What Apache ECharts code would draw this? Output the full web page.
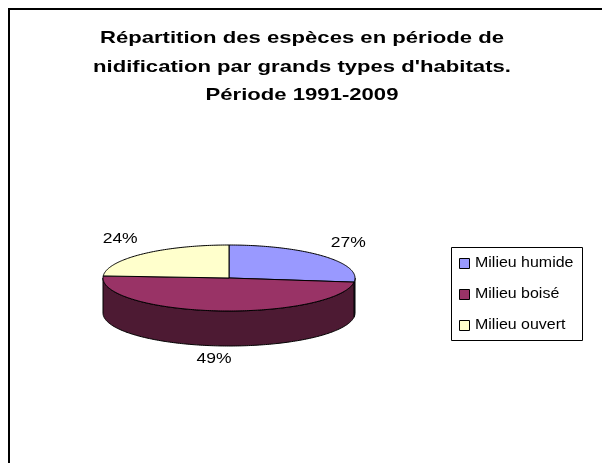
<!DOCTYPE html>
<html>
<head>
<meta charset="utf-8">
<script src="https://cdn.jsdelivr.net/npm/echarts@6/dist/echarts.min.js"></script>
<style>
  html, body { margin: 0; padding: 0; background: #fff; }
  #chart { width: 602px; height: 463px; }
</style>
</head>
<body>
<div id="chart"></div>
<script>
// Habitat categories and their share of breeding species (%)
const categories = ['Milieu humide', 'Milieu boisé', 'Milieu ouvert'];
const shares = [27, 49, 24];
const titleLines = [
  'Répartition des espèces en période de',
  "nidification par grands types d'habitats.",
  'Période 1991-2009'
];

// Slice colours: top face and darker side wall
const topColors = ['#9999FF', '#993366', '#FFFFCC'];
const sideColors = ['#4D4D80', '#4D1A33', '#808066'];

// Tilted-disc geometry (pixels)
const disc = { cx: 229, cy: 278, rx: 126, ry: 33, depth: 35 };
const FONT = '"Liberation Sans", Arial, sans-serif';

const total = shares.reduce((a, b) => a + b, 0);
const starts = shares.map((_, i) => shares.slice(0, i).reduce((a, b) => a + b, 0) / total * 360);

// Angle measured clockwise from 12 o'clock
function pt(deg, dy) {
  const r = deg * Math.PI / 180;
  return [disc.cx + disc.rx * Math.sin(r), disc.cy - disc.ry * Math.cos(r) + (dy || 0)];
}
function arc(a0, a1, dy) {
  const pts = [];
  const n = Math.max(2, Math.ceil(Math.abs(a1 - a0)));
  for (let k = 0; k <= n; k++) pts.push(pt(a0 + (a1 - a0) * k / n, dy));
  return pts;
}

function makeRender(i) {
  return function (params, api) {
    const value = api.value(0);
    const a0 = starts[i];
    const a1 = a0 + value / total * 360;
    const children = [];
    const edge = { stroke: '#000', lineWidth: 1, lineJoin: 'round' };

    // visible front wall: part of the slice between 90° and 270°
    const s0 = Math.max(a0, 90), s1 = Math.min(a1, 270);
    if (s1 > s0) {
      children.push({
        type: 'polygon',
        shape: { points: arc(s0, s1, 0).concat(arc(s1, s0, disc.depth)) },
        style: Object.assign({ fill: sideColors[i] }, edge)
      });
    }

    // top face
    children.push({
      type: 'polygon',
      shape: { points: [[disc.cx, disc.cy]].concat(arc(a0, a1, 0)) },
      style: Object.assign({ fill: topColors[i] }, edge)
    });

    // percentage label outside the slice
    const mid = (a0 + a1) / 2 * Math.PI / 180;
    const s = Math.sin(mid), c = Math.cos(mid);
    const lx = disc.cx + (disc.rx + 33) * s;
    const ly = c >= 0
      ? disc.cy - (disc.ry + 20) * c
      : disc.cy + disc.depth + (disc.ry + 13) * (-c);
    children.push({
      type: 'text',
      x: lx, y: ly, scaleX: 1.25,
      style: {
        text: Math.round(value) + '%',
        x: 0, y: 0,
        align: 'center', verticalAlign: 'middle',
        fontSize: 14, fontFamily: FONT, fill: '#000'
      }
    });

    return { type: 'group', children: children };
  };
}

// Title lines (slightly widened text)
const titleGraphics = titleLines.map((line, k) => ({
  type: 'text',
  x: 302, y: 38.5 + k * 28.5, scaleX: 1.3,
  silent: true,
  style: {
    text: line, x: 0, y: 0,
    align: 'center', verticalAlign: 'middle',
    fontSize: 17, fontWeight: 'bold', fontFamily: FONT, fill: '#000'
  }
}));

// Legend box with swatches
const legendBox = { left: 451, top: 247, width: 131, height: 93, rowTop: 263, rowGap: 31 };
const legendGraphics = [{
  type: 'rect', silent: true,
  shape: { x: legendBox.left + 0.5, y: legendBox.top + 0.5, width: legendBox.width, height: legendBox.height },
  style: { fill: '#fff', stroke: '#000', lineWidth: 1 }
}];
categories.forEach((name, i) => {
  const cy = legendBox.rowTop + i * legendBox.rowGap;
  legendGraphics.push({
    type: 'rect', silent: true,
    shape: { x: legendBox.left + 8.5, y: Math.round(cy - 5) + 0.5, width: 10, height: 10 },
    style: { fill: topColors[i], stroke: '#000', lineWidth: 1 }
  });
  legendGraphics.push({
    type: 'text', silent: true,
    x: legendBox.left + 24, y: cy, scaleX: 1.14,
    style: {
      text: name, x: 0, y: 0,
      align: 'left', verticalAlign: 'middle',
      fontSize: 14, fontFamily: FONT, fill: '#000'
    }
  });
});

const chart = echarts.init(document.getElementById('chart'), null, { renderer: 'canvas' });

chart.setOption({
  backgroundColor: '#fff',
  animation: false,
  graphic: [{
    type: 'rect',
    silent: true,
    shape: { x: 9, y: 9, width: 700, height: 600 },
    style: { fill: 'none', stroke: '#000', lineWidth: 2 }
  }].concat(titleGraphics, legendGraphics),
  series: categories.map((name, i) => ({
    type: 'custom',
    name: name,
    coordinateSystem: 'none',
    itemStyle: { color: topColors[i] },
    renderItem: makeRender(i),
    data: [[shares[i]]]
  }))
});
</script>
</body>
</html>
